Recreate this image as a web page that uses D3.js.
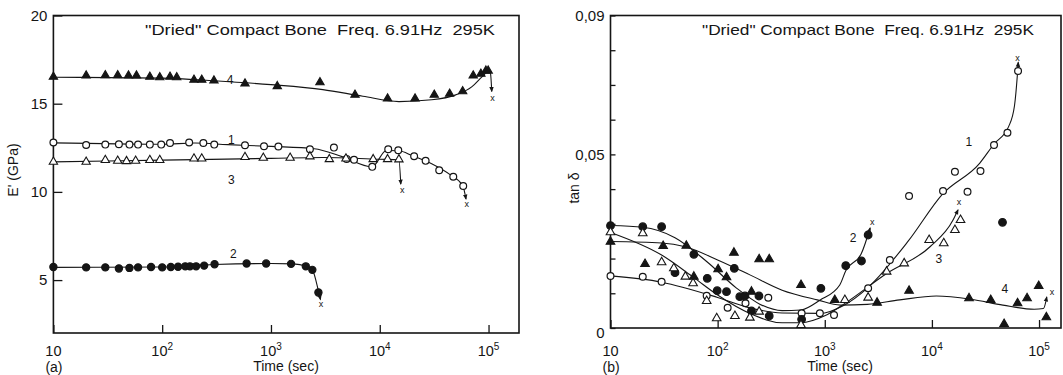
<!DOCTYPE html>
<html>
<head>
<meta charset="utf-8">
<script src="https://cdn.jsdelivr.net/npm/d3@7/dist/d3.min.js"></script>
<style>
  body { margin: 0; background: #fff; }
  svg { display: block; font-family: "Liberation Sans", Arial, sans-serif; }
</style>
</head>
<body>
<div id="chart"></div>
<script>
// ---- panel (a): E' (GPa) vs time (sec) ----
const aT1 = [10, 20, 30, 40, 50, 60, 77, 98, 118, 177, 239, 301, 577, 863, 1170, 2280, 3790, 4960, 5800, 8530, 11960, 14800, 20700, 26400, 35200, 47400, 58500];
const aV1 = [12.80, 12.66, 12.68, 12.70, 12.68, 12.68, 12.68, 12.68, 12.77, 12.80, 12.77, 12.68, 12.64, 12.59, 12.57, 12.42, 12.51, 11.87, 11.82, 11.42, 12.42, 12.36, 12.02, 11.76, 11.23, 10.86, 10.33];
const aT2 = [10, 20, 30, 40, 50, 60, 79, 100, 120, 140, 163, 180, 205, 243, 303, 597, 903, 1530, 2090, 2400, 2730];
const aV2 = [5.74, 5.72, 5.72, 5.66, 5.69, 5.72, 5.74, 5.72, 5.74, 5.76, 5.78, 5.78, 5.78, 5.82, 5.90, 5.94, 5.94, 5.92, 5.78, 5.58, 4.30];
const aT3 = [10, 20, 30, 39, 47, 57, 77, 95, 196, 231, 577, 850, 1500, 2280, 3440, 4890, 8700, 11800, 15000];
const aV3 = [11.70, 11.70, 11.80, 11.76, 11.74, 11.76, 11.80, 11.80, 11.89, 11.89, 11.97, 11.93, 11.93, 12.01, 11.85, 11.89, 11.85, 11.85, 11.84];
const aT4 = [10, 20, 30, 39, 49, 58, 77, 95, 118, 136, 196, 231, 299, 577, 1143, 2820, 5920, 11800, 21100, 31700, 43900, 57800, 72300, 85000, 94600, 99300];
const aV4 = [16.52, 16.59, 16.61, 16.61, 16.59, 16.59, 16.52, 16.49, 16.52, 16.49, 16.35, 16.35, 16.31, 16.14, 15.99, 16.21, 15.50, 15.29, 15.29, 15.50, 15.56, 15.70, 16.59, 16.69, 16.87, 16.87];

// hand-drawn fit curves
const aCurve1 = [[10, 12.78], [100, 12.7], [200, 12.77], [400, 12.68], [1000, 12.58], [2500, 12.45], [4500, 12.0], [8500, 11.42], [11500, 12.35], [15000, 12.33], [20000, 12.05], [30000, 11.6], [45000, 10.95], [58000, 10.35], [62000, 9.6]];
const aCurve2 = [[10, 5.72], [100, 5.74], [300, 5.88], [1000, 5.94], [1600, 5.92], [2100, 5.78], [2400, 5.58], [2750, 4.3], [2850, 3.9]];
const aCurve3 = [[10, 11.7], [100, 11.8], [1000, 11.9], [3000, 11.95], [10000, 11.85], [15000, 11.82], [15600, 10.45]];
const aCurve4 = [[10, 16.5], [100, 16.45], [300, 16.3], [1000, 16.08], [3000, 15.8], [7000, 15.42], [15000, 15.12], [30000, 15.22], [50000, 15.5], [70000, 15.95], [88000, 16.55], [100000, 16.85], [104000, 16.75], [107000, 15.7]];
const aEnds = [[63000, 9.32], [2880, 3.64], [16100, 10.11], [109000, 15.33]];
const aLabels = [["1", 432, 12.95], ["2", 450, 6.5], ["3", 432, 10.68], ["4", 420, 16.37]];

// ---- panel (b): tan delta vs time (sec) ----
const bT1 = [10, 20, 30, 79, 124, 182, 297, 608, 900, 1220, 2540, 4050, 6120, 12700, 16400, 21500, 28400, 38000, 50700, 63700];
const bV1 = [0.01498, 0.01478, 0.01334, 0.0093, 0.00585, 0.00711, 0.00873, 0.00423, 0.00423, 0.00374, 0.01143, 0.01958, 0.03802, 0.03946, 0.04502, 0.03926, 0.04522, 0.05271, 0.05625, 0.07402];
const bT2 = [10, 20, 30, 40, 60, 80, 99, 121, 143, 161, 180, 207, 243, 303, 608, 920, 1570, 2200, 2540, 45600];
const bV2 = [0.02947, 0.02918, 0.02918, 0.01593, 0.02122, 0.01431, 0.01074, 0.01046, 0.01719, 0.00902, 0.00922, 0.0049, 0.00922, 0.00346, 0.0025, 0.01143, 0.01795, 0.0193, 0.02679, 0.03044];
const bT3 = [10, 20, 30, 39, 50, 59, 79, 98, 145, 200, 244, 600, 1540, 2540, 3780, 5510, 9420, 12900, 16400, 18500];
const bV3 = [0.02756, 0.02727, 0.01892, 0.0172, 0.01478, 0.01287, 0.00778, 0.00279, 0.00346, 0.00297, 0.0047, 0.00086, 0.00806, 0.00873, 0.01622, 0.01862, 0.02535, 0.02439, 0.02823, 0.0311];
const bT4 = [10, 21, 31, 51, 60, 101, 121, 142, 207, 244, 303, 600, 1240, 3080, 6120, 22200, 35400, 47200, 63000, 77300, 99300, 117000];
const bV4 = [0.02486, 0.01843, 0.02362, 0.0237, 0.01478, 0.0169, 0.0146, 0.02169, 0.01046, 0.01979, 0.01979, 0.01238, 0.00806, 0.00729, 0.01074, 0.00855, 0.00806, 0.00115, 0.00711, 0.00855, 0.0121, 0.00308];

const bCurve1 = [[10, 0.015], [30, 0.0132], [100, 0.0088], [200, 0.0058], [400, 0.0043], [900, 0.0042], [1500, 0.0065], [2500, 0.0115], [6000, 0.025], [12500, 0.0385], [28000, 0.0475], [38000, 0.053], [52000, 0.058], [59000, 0.064], [63000, 0.0735], [64000, 0.0765]];
const bCurve2 = [[10, 0.0295], [20, 0.029], [40, 0.026], [80, 0.019], [150, 0.0115], [250, 0.0068], [400, 0.005], [600, 0.0052], [900, 0.008], [1380, 0.0124], [1570, 0.0165], [2200, 0.0215], [2650, 0.0288]];
const bCurve3 = [[10, 0.0275], [30, 0.021], [60, 0.0145], [100, 0.0095], [200, 0.0042], [400, 0.0015], [600, 0.0015], [1000, 0.0035], [1540, 0.0071], [3780, 0.0157], [9600, 0.0234], [15700, 0.031], [17500, 0.034]];
const bCurve4 = [[10, 0.0249], [30, 0.0245], [50, 0.0234], [100, 0.0196], [200, 0.0153], [400, 0.0109], [850, 0.0081], [1400, 0.0066], [2500, 0.0068], [5000, 0.0081], [11000, 0.0092], [23000, 0.0083], [46000, 0.0066], [90000, 0.0054], [110000, 0.0056], [118000, 0.0089]];
const bEnds = [[62800, 0.0777], [2770, 0.0303], [17900, 0.0361], [132000, 0.0104]];
const bLabels = [["1", 22100, 0.0537], ["2", 1840, 0.0261], ["3", 11600, 0.0198], ["4", 47900, 0.0114]];

const decades = [1, 2, 3, 4, 5];
const titleText = "\"Dried\" Compact Bone\u00a0 Freq. 6.91Hz\u00a0 295K";

const W = 1063, H = 375;
const ink = "#151515";

const svg = d3.select("#chart").append("svg")
  .attr("width", W).attr("height", H)
  .attr("viewBox", `0 0 ${W} ${H}`);
svg.append("rect").attr("width", W).attr("height", H).attr("fill", "#fff");

svg.append("defs").append("marker")
  .attr("id", "arrow")
  .attr("viewBox", "0 0 10 10")
  .attr("refX", 8).attr("refY", 5)
  .attr("markerWidth", 5).attr("markerHeight", 5)
  .attr("orient", "auto")
  .append("path").attr("d", "M0,1L10,5L0,9Z").attr("fill", ink);

function drawPanel(cfg) {
  const x = d3.scaleLog().domain(cfg.xDom).range([cfg.x0, cfg.x1]);
  const y = d3.scaleLinear().domain(cfg.yDom).range([cfg.y1, cfg.y0]);
  const g = svg.append("g");

  // frame
  g.append("rect")
    .attr("x", cfg.x0).attr("y", cfg.y0)
    .attr("width", cfg.x1 - cfg.x0).attr("height", cfg.y1 - cfg.y0)
    .attr("fill", "none").attr("stroke", ink).attr("stroke-width", 1.6);

  // x ticks (inward)
  const xa = g.append("g").attr("transform", `translate(0,${cfg.y1})`)
    .call(d3.axisBottom(x).tickValues(decades.map(e => Math.pow(10, e)))
      .tickSizeInner(-8).tickSizeOuter(0).tickFormat(""));
  xa.select(".domain").remove();
  xa.selectAll("line").attr("stroke", ink).attr("stroke-width", 1.3);

  // x tick labels, 10^n
  decades.forEach(e => {
    const t = g.append("text")
      .attr("x", x(Math.pow(10, e))).attr("y", 356)
      .attr("text-anchor", "middle")
      .attr("font-size", 14.5).attr("fill", ink);
    t.append("tspan").text("10");
    if (e > 1) {
      t.append("tspan").attr("dy", -6).attr("font-size", 10).text(e);
    }
  });

  // y ticks (inward)
  const ya = g.append("g").attr("transform", `translate(${cfg.x0},0)`)
    .call(d3.axisLeft(y).tickValues(cfg.yTicks)
      .tickSizeInner(-cfg.yTickLen).tickSizeOuter(0).tickFormat(""));
  ya.select(".domain").remove();
  ya.selectAll("line").attr("stroke", ink).attr("stroke-width", 1.3);

  g.selectAll(".ylab").data(cfg.yLabels).join("text")
    .attr("x", cfg.x0 - 6)
    .attr("y", d => y(d) + (d === 0 ? 5 : 0))
    .attr("dy", "0.36em")
    .attr("text-anchor", "end")
    .attr("font-size", 15).attr("fill", ink)
    .text(cfg.yFormat);

  // axis titles
  g.append("text")
    .attr("x", cfg.xTitle).attr("y", 371)
    .attr("text-anchor", "middle").attr("font-size", 14).attr("fill", ink)
    .text("Time (sec)");
  g.append("text")
    .attr("x", cfg.x0 - 8).attr("y", 372)
    .attr("font-size", 14).attr("fill", ink)
    .text(cfg.tag);
  g.append("text")
    .attr("transform", `translate(${cfg.yTitleX},${cfg.yTitleY}) rotate(-90)`)
    .attr("text-anchor", "middle").attr("font-size", 14).attr("fill", ink)
    .text(cfg.yTitle);

  // chart title
  g.append("text")
    .attr("x", cfg.titleX).attr("y", 35)
    .attr("font-size", 14.5).attr("fill", ink)
    .attr("textLength", cfg.titleW).attr("lengthAdjust", "spacingAndGlyphs")
    .text(titleText);

  // fitted curves
  const line = d3.line().x(d => x(d[0])).y(d => y(d[1])).curve(d3.curveMonotoneX);
  g.selectAll(".curve").data(cfg.curves).join("path")
    .attr("d", line)
    .attr("fill", "none").attr("stroke", ink).attr("stroke-width", 1.1)
    .attr("marker-end", "url(#arrow)");

  // failure marks
  g.selectAll(".endx").data(cfg.ends).join("text")
    .attr("x", d => x(d[0])).attr("y", d => y(d[1]))
    .attr("dy", "0.3em").attr("text-anchor", "middle")
    .attr("font-size", 9).attr("fill", ink)
    .text("x");

  // curve numbers
  g.selectAll(".cnum").data(cfg.labels).join("text")
    .attr("x", d => x(d[1])).attr("y", d => y(d[2]))
    .attr("dy", "0.35em").attr("text-anchor", "middle")
    .attr("font-size", 12).attr("fill", ink)
    .text(d => d[0]);

  // data points
  cfg.series.forEach(s => {
    const pts = s.t.map((t, i) => [t, s.v[i]]);
    if (s.shape === "circle") {
      g.selectAll(null).data(pts).join("circle")
        .attr("cx", d => x(d[0])).attr("cy", d => y(d[1]))
        .attr("r", s.filled ? cfg.rFill : cfg.rOpen)
        .attr("fill", s.filled ? ink : "#fff")
        .attr("stroke", ink).attr("stroke-width", 1.2);
    } else {
      const sym = d3.symbol().type(d3.symbolTriangle).size(cfg.triSize);
      g.selectAll(null).data(pts).join("path")
        .attr("transform", d => `translate(${x(d[0])},${y(d[1])})`)
        .attr("d", sym)
        .attr("fill", s.filled ? ink : "#fff")
        .attr("stroke", ink).attr("stroke-width", 1.1);
    }
  });
}

drawPanel({
  x0: 53.4, x1: 519, y0: 15.5, y1: 333,
  xDom: [10, Math.pow(10, 5.28)], yDom: [2, 20],
  yTicks: [5, 10, 15, 20], yLabels: [5, 10, 15, 20], yFormat: d => d, yTickLen: 9,
  yTitle: "E' (GPa)", yTitleX: 18, yTitleY: 170,
  xTitle: 286, tag: "(a)",
  titleX: 145, titleW: 350,
  rOpen: 3.4, rFill: 3.6, triSize: 30,
  curves: [aCurve1, aCurve2, aCurve3, aCurve4],
  ends: aEnds, labels: aLabels,
  series: [
    { t: aT1, v: aV1, shape: "circle", filled: false },
    { t: aT2, v: aV2, shape: "circle", filled: true },
    { t: aT3, v: aV3, shape: "triangle", filled: false },
    { t: aT4, v: aV4, shape: "triangle", filled: true }
  ]
});

drawPanel({
  x0: 610.5, x1: 1061, y0: 15.5, y1: 328,
  xDom: [10, Math.pow(10, 5.205)], yDom: [0, 0.09],
  yTicks: d3.range(0, 10).map(i => i / 100), yLabels: [0, 0.05, 0.09], yTickLen: 5,
  yFormat: d => d === 0 ? "0" : d.toFixed(2).replace(".", ","),
  yTitle: "tan \u03b4", yTitleX: 579, yTitleY: 188,
  xTitle: 840, tag: "(b)",
  titleX: 702, titleW: 332,
  rOpen: 3.4, rFill: 3.8, triSize: 32,
  curves: [bCurve1, bCurve2, bCurve3, bCurve4],
  ends: bEnds, labels: bLabels,
  series: [
    { t: bT1, v: bV1, shape: "circle", filled: false },
    { t: bT2, v: bV2, shape: "circle", filled: true },
    { t: bT3, v: bV3, shape: "triangle", filled: false },
    { t: bT4, v: bV4, shape: "triangle", filled: true }
  ]
});
</script>
</body>
</html>
